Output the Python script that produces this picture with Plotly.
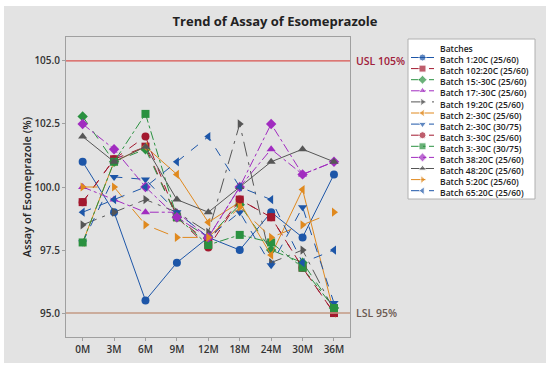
import plotly.graph_objects as go

timepoints = ["0M", "3M", "6M", "9M", "12M", "18M", "24M", "30M", "36M"]

batch_names = [
    "Batch 1:20C (25/60)",
    "Batch 102:20C (25/60)",
    "Batch 15:-30C (25/60)",
    "Batch 17:-30C (25/60)",
    "Batch 19:20C (25/60)",
    "Batch 2:-30C (25/60)",
    "Batch 2:-30C (30/75)",
    "Batch 3:-30C (25/60)",
    "Batch 3:-30C (30/75)",
    "Batch 38:20C (25/60)",
    "Batch 48:20C (25/60)",
    "Batch 5:20C (25/60)",
    "Batch 65:20C (25/60)",
]

b1_20c = [101.0, 99.0, 95.5, 97.0, 98.0, 97.5, 99.0, 98.0, 100.5]
b102_20c = [99.4, 101.1, 101.6, 98.8, 97.8, 99.5, 98.8, 96.8, 95.0]
b15_m30c = [102.8, 101.0, 101.5, 98.8, 98.0, 99.3, 97.5, 97.0, 95.2]
b17_m30c = [100.0, 99.5, 99.0, 99.0, 98.0, 100.0, 101.5, 100.5, 101.0]
b19_20c = [98.5, 99.0, 99.5, 99.0, 98.2, 102.5, 97.0, 97.5, 95.1]
b2_m30c_2560 = [97.8, 101.0, 101.6, 100.5, 98.6, 99.4, 97.3, 99.9, 95.0]
b2_m30c_3075 = [97.8, 100.4, 100.3, 99.0, 98.0, 99.0, 96.9, 99.2, 95.4]
b3_m30c_2560 = [99.4, 101.1, 102.0, 98.8, 97.6, 99.5, 98.8, 96.8, 95.0]
b3_m30c_3075 = [97.8, 101.0, 102.9, 98.8, 97.7, 98.1, 97.8, 96.8, 95.2]
b38_20c = [102.5, 101.5, 100.0, 98.8, 98.0, 100.0, 102.5, 100.5, 101.0]
b48_20c = [102.0, 101.0, 101.6, 99.5, 99.0, 100.0, 101.0, 101.5, 101.0]
b5_20c = [100.0, 100.0, 98.5, 98.0, 98.0, 99.2, 98.0, 98.5, 99.0]
b65_20c = [99.0, 99.5, 100.0, 101.0, 102.0, 100.0, 99.5, 97.0, 97.5]

series = [b1_20c, b102_20c, b15_m30c, b17_m30c, b19_20c, b2_m30c_2560, b2_m30c_3075,
          b3_m30c_2560, b3_m30c_3075, b38_20c, b48_20c, b5_20c, b65_20c]

usl = 105.0
lsl = 95.0
y_ticks = [95.0, 97.5, 100.0, 102.5, 105.0]

BLUE = "#1d56a8"
RED = "#a3192f"
GREEN = "#2a9140"
MAG = "#a12cc0"
GRAY = "#565656"
ORANGE = "#e0891e"

colors = [BLUE, RED, GREEN, MAG, GRAY, ORANGE, BLUE, RED, GREEN, MAG, GRAY, ORANGE, BLUE]
symbols = ["circle", "square", "diamond", "triangle-up", "triangle-right", "triangle-left",
           "triangle-down", "circle", "square", "diamond", "triangle-up", "triangle-right",
           "triangle-left"]
dashes = ["solid", "dash", "dash", "dashdot", "longdashdot", "solid", "dash", "dash",
          "dashdot", "dashdot", "solid", "longdash", "dash"]

W, H = 550, 369
ML, MT, MB = 66, 37, 32
PW = W - ML
PH = H - MT - MB
plot_right = 350
leg_y0 = 57.5
leg_step = 11.1
leg_font = 8.55


def px_x(p):
    return (p - ML) / PW


def px_y(p):
    return (H - MB - p) / PH


fig = go.Figure()

for name, vals, c, s, d in zip(batch_names, series, colors, symbols, dashes):
    fig.add_trace(go.Scatter(
        x=timepoints, y=vals, name=name, mode="lines+markers",
        line=dict(color=c, width=1, dash=d),
        marker=dict(color=c, symbol=s, size=8),
        showlegend=False, xaxis="x", yaxis="y",
    ))

# custom compact legend (glyphs)
for i, (name, c, s, d) in enumerate(zip(batch_names, colors, symbols, dashes)):
    fig.add_trace(go.Scatter(
        x=[0, 1, 2], y=[i, i, i], mode="lines+markers",
        line=dict(color=c, width=1, dash=d),
        marker=dict(color=c, symbol=s, size=[0, 7, 0]),
        showlegend=False, hoverinfo="skip", xaxis="x2", yaxis="y2",
    ))

# legend texts as one block
legend_text = "<br>".join(["Batches"] + batch_names)
fig.add_annotation(x=px_x(438), y=px_y(leg_y0 - leg_step - leg_step / 2 + 0.5), xref="paper",
                   yref="paper", text=legend_text, showarrow=False, xanchor="left",
                   yanchor="top", align="left",
                   font=dict(size=leg_font, color="#222222", family="Open Sans", weight=600))

# spec limit lines
fig.add_shape(type="line", xref="paper", yref="y", x0=0, x1=px_x(plot_right), y0=usl, y1=usl,
              line=dict(color="#d9534f", width=1.2))
fig.add_shape(type="line", xref="paper", yref="y", x0=0, x1=px_x(plot_right), y0=lsl, y1=lsl,
              line=dict(color="#c39a84", width=1.5))
fig.add_annotation(x=px_x(354), y=usl, xref="paper", yref="y", text="USL 105%", showarrow=False,
                   xanchor="left", yanchor="middle",
                   font=dict(size=10.5, color="#a0203a", family="Open Sans", weight=600))
fig.add_annotation(x=px_x(354), y=lsl, xref="paper", yref="y", text="LSL 95%", showarrow=False,
                   xanchor="left", yanchor="middle",
                   font=dict(size=10.5, color="#6b5a52", family="Open Sans", weight=600))

# legend box and outer panel
fig.add_shape(type="rect", xref="paper", yref="paper", layer="below",
              x0=px_x(4), x1=px_x(546), y0=px_y(363), y1=px_y(6),
              fillcolor="#e3e3e3", line=dict(width=0))
fig.add_shape(type="rect", xref="paper", yref="paper", layer="below",
              x0=px_x(408), x1=px_x(535), y0=px_y(199), y1=px_y(39),
              fillcolor="white", line=dict(color="#b0b0b0", width=1))

fig.update_layout(
    width=W, height=H,
    margin=dict(l=ML, r=0, t=MT, b=MB),
    paper_bgcolor="white",
    plot_bgcolor="white",
    font=dict(family="Open Sans", color="#333333"),
    title=dict(text="<b>Trend of Assay of Esomeprazole</b>", x=0.5, xref="container",
               xanchor="center", y=1 - 21 / H, yanchor="middle",
               font=dict(size=13, color="#222222", family="Open Sans")),
    xaxis=dict(domain=[0, px_x(plot_right)], range=[-0.53, 8.51], type="category",
               showgrid=False, zeroline=False, showline=True, linecolor="#a0a0a0", mirror=True,
               ticks="outside", ticklen=3, tickcolor="#a0a0a0",
               tickfont=dict(size=10, color="#333333", family="Open Sans", weight=600)),
    yaxis=dict(range=[94.05, 105.95], tickvals=y_ticks, ticktext=[f"{v:.1f}" for v in y_ticks],
               showgrid=False, zeroline=False, showline=True, linecolor="#a0a0a0", mirror=True,
               ticks="outside", ticklen=3, tickcolor="#a0a0a0",
               tickfont=dict(size=10, color="#333333", family="Open Sans", weight=600),
               title=dict(text="Assay of Esomeprazole (%)", standoff=0,
                          font=dict(size=11, color="#222222", family="Open Sans", weight=600))),
    xaxis2=dict(domain=[px_x(411), px_x(434)], range=[0, 2], visible=False, anchor="y2"),
    yaxis2=dict(domain=[0, 1], range=[(H - MB - leg_y0) / leg_step, (MT - leg_y0) / leg_step],
                visible=False, anchor="x2"),
)

fig.write_html("out.html", config={"displayModeBar": False},
               post_script="document.body.style.margin='0px';")
